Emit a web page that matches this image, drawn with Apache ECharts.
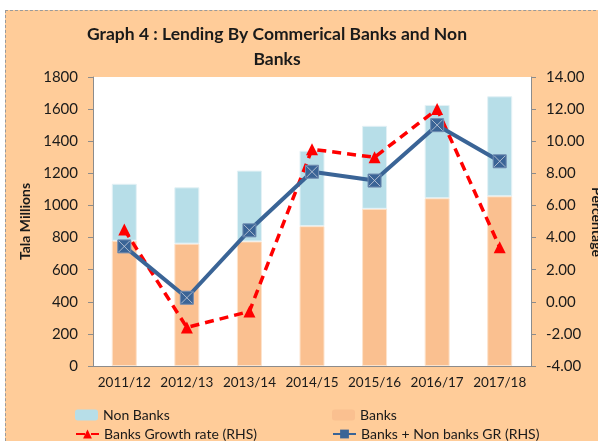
<!DOCTYPE html>
<html>
<head>
<meta charset="utf-8">
<script src="https://cdn.jsdelivr.net/npm/echarts@6/dist/echarts.min.js"></script>
<style>
html,body{margin:0;padding:0;background:#fff;}
#frame{position:absolute;left:5px;top:10px;width:600px;height:440px;background:#FFCC99;border-left:1px dashed #9a9a9a;border-top:1px dashed #9a9a9a;}
#chart{position:absolute;left:0;top:0;width:598px;height:441px;}
</style>
</head>
<body>
<div id="frame"></div>
<div id="chart"></div>
<script>
const categories = ['2011/12','2012/13','2013/14','2014/15','2015/16','2016/17','2017/18'];
const banks = [780, 762, 776, 871, 979, 1045, 1057];
const nonBanks = [355, 351, 441, 470, 517, 581, 623];
const banksGrowth = [4.5, -1.6, -0.6, 9.5, 9.0, 12.0, 3.4];
const totalGrowth = [3.45, 0.25, 4.45, 8.1, 7.55, 11.0, 8.75];
const leftTicks = {min: 0, max: 1800, interval: 200};
const rightTicks = {min: -4, max: 14, interval: 2};

const FONT = 'Lato';
const chart = echarts.init(document.getElementById('chart'), null, {renderer: 'canvas'});
const blue = '#3A6496';
const red = '#FF0000';
const axisGray = '#8c8c8c';

function legendAt(name, left, top) {
  return {
    data: [name], left: left, top: top, itemWidth: 23, itemHeight: 11,
    textStyle: {fontFamily: FONT, fontSize: 14, color: '#1a1a1a'},
    itemStyle: {borderWidth: 0}
  };
}

chart.setOption({
  backgroundColor: 'transparent',
  textStyle: {fontFamily: FONT},
  title: {
    text: 'Graph 4 : Lending By Commerical Banks and Non\nBanks',
    left: 272, top: 17, textAlign: 'center',
    textStyle: {fontFamily: FONT, fontSize: 17.5, fontWeight: 'bold', color: '#1a1a1a', lineHeight: 25}
  },
  legend: [
    legendAt('Non Banks', 70, 403),
    legendAt('Banks', 327, 403),
    legendAt('Banks Growth rate (RHS)', 70, 422),
    legendAt('Banks + Non banks GR (RHS)', 327, 422)
  ],
  graphic: [{
    type: 'text', x: 597, y: 222, rotation: -Math.PI / 2,
    style: {text: 'Percentage', fontFamily: FONT, fontSize: 14, fontWeight: 'bold', fill: '#1a1a1a', align: 'center', verticalAlign: 'middle'}
  }],
  grid: {left: 93, right: 67, top: 77, bottom: 75, show: true, backgroundColor: '#ffffff', borderWidth: 0},
  xAxis: {
    type: 'category', data: categories,
    axisLine: {lineStyle: {color: axisGray}},
    axisTick: {length: 5, lineStyle: {color: axisGray}},
    axisLabel: {fontFamily: FONT, fontSize: 13.5, color: '#1a1a1a', margin: 10, interval: 0}
  },
  yAxis: [
    {
      type: 'value', min: leftTicks.min, max: leftTicks.max, interval: leftTicks.interval,
      name: 'Tala Millions', nameLocation: 'middle', nameGap: 59, nameRotate: 90,
      nameTextStyle: {fontFamily: FONT, fontSize: 14, fontWeight: 'bold', color: '#1a1a1a'},
      axisLine: {show: true, lineStyle: {color: axisGray}},
      axisTick: {show: true, length: 5, lineStyle: {color: axisGray}},
      splitLine: {show: false},
      axisLabel: {fontFamily: FONT, fontSize: 15, color: '#1a1a1a', margin: 15, formatter: v => String(v)}
    },
    {
      type: 'value', position: 'right', min: rightTicks.min, max: rightTicks.max, interval: rightTicks.interval,
      axisLine: {show: true, lineStyle: {color: axisGray}},
      axisTick: {show: true, length: 5, lineStyle: {color: axisGray}},
      splitLine: {show: false},
      axisLabel: {fontFamily: FONT, fontSize: 15, color: '#1a1a1a', margin: 15, formatter: v => v.toFixed(2)}
    }
  ],
  series: [
    {
      name: 'Banks', type: 'bar', stack: 'lend', data: banks, barWidth: 25,
      itemStyle: {color: '#FAC090', borderColor: '#fde3cc', borderWidth: 1}
    },
    {
      name: 'Non Banks', type: 'bar', stack: 'lend', data: nonBanks, barWidth: 25,
      itemStyle: {color: '#B7DEE8', borderColor: '#e3f1f5', borderWidth: 1}
    },
    {
      name: 'Banks Growth rate (RHS)', type: 'line', yAxisIndex: 1, data: banksGrowth,
      symbol: 'triangle', symbolSize: 12, z: 3,
      lineStyle: {color: red, width: 3.5, type: [9, 6]},
      itemStyle: {color: red, borderWidth: 0}
    },
    {
      name: 'Banks + Non banks GR (RHS)', type: 'line', yAxisIndex: 1, data: totalGrowth,
      symbol: 'rect', symbolSize: 13, z: 4,
      lineStyle: {color: blue, width: 4},
      itemStyle: {color: blue, borderColor: '#6f8bb0', borderWidth: 1}
    },
    {
      name: 'Banks + Non banks GR (RHS)', type: 'scatter', yAxisIndex: 1, data: totalGrowth,
      symbol: 'path://M0,0L10,10M10,0L0,10', symbolSize: 11, z: 5, silent: true,
      itemStyle: {color: 'transparent', borderColor: '#c9cfdc', borderWidth: 1}
    }
  ]
});
</script>
</body>
</html>
